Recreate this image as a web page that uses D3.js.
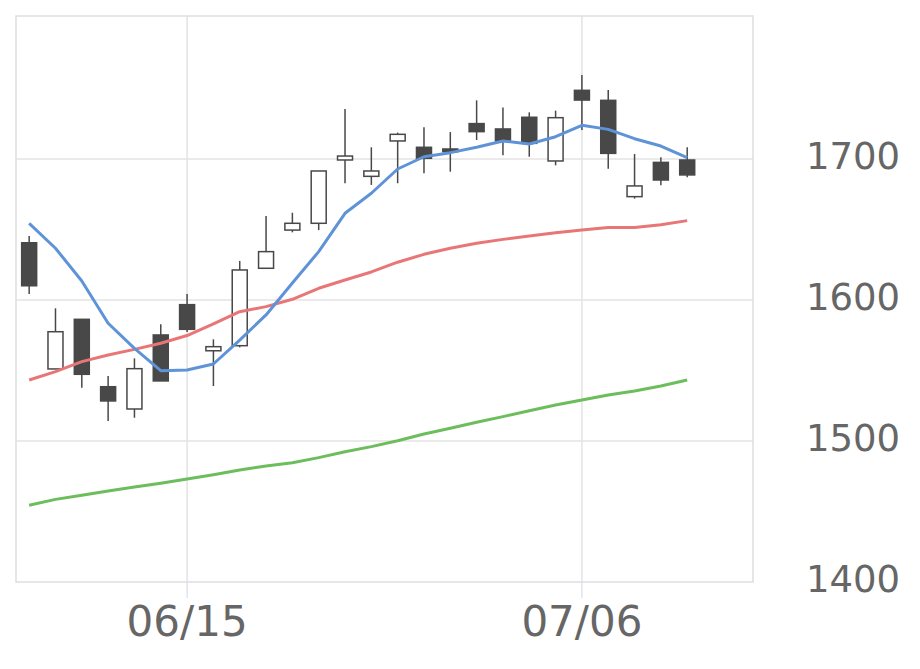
<!DOCTYPE html>
<html>
<head>
<meta charset="utf-8">
<script src="https://cdn.jsdelivr.net/npm/d3@7"></script>
<style>
  body { margin: 0; background: #fff; }
  text { font-family: "DejaVu Sans", sans-serif; fill: #666; }
</style>
</head>
<body>
<div id="chart"></div>
<script>
// trading days, 06/05 .. 07/10
let dates = ['06/05','06/08','06/09','06/10','06/11','06/12','06/15','06/16','06/17','06/18',
             '06/19','06/22','06/23','06/24','06/25','06/26','06/29','06/30','07/01','07/02',
             '07/03','07/06','07/07','07/08','07/09','07/10']
let open  = [1640.6,1551.1,1586.3,1538.5,1522.7,1575.2,1596.7,1564.0,1567.6,1622.5,
             1649.6,1654.4,1699.3,1687.7,1712.8,1708.3,1707.1,1725.1,1721.3,1729.6,
             1698.6,1748.7,1741.6,1673.3,1697.6,1699.3]
let high  = [1645.4,1594.1,1586.3,1546.1,1558.6,1582.8,1604.3,1572.1,1627.7,1659.6,
             1661.9,1691.5,1735.5,1708.3,1718.7,1722.5,1719.1,1741.6,1736.6,1733.1,
             1734.3,1759.6,1748.9,1703.5,1701.2,1708.3]
let low   = [1604.3,1551.1,1537.8,1514.2,1516.5,1542.6,1577.3,1539.0,1566.4,1622.5,
             1648.0,1649.6,1682.8,1681.6,1682.8,1689.9,1691.0,1713.5,1702.6,1701.6,
             1695.5,1720.6,1693.1,1671.9,1681.3,1687.0]
let close = [1610.1,1577.5,1547.3,1528.4,1551.3,1542.6,1579.2,1566.9,1621.3,1634.3,
             1654.4,1691.5,1702.1,1691.5,1717.5,1700.5,1705.2,1719.4,1712.8,1711.1,
             1729.3,1741.8,1704.0,1680.9,1685.1,1688.7]
let ma5   = [1654.4,1636.7,1613.5,1583.5,1565.7,1549.9,1550.4,1554.6,1571.6,1589.4,
             1612.0,1634.3,1661.5,1675.7,1692.9,1701.6,1704.5,1708.3,1712.8,1710.6,
             1715.8,1723.9,1721.0,1714.4,1709.2,1700.9]
let ma25  = [1543.3,1549.2,1556.3,1561.0,1565.0,1569.3,1574.8,1583.0,1591.7,1595.3,
             1600.5,1608.3,1614.2,1619.9,1626.8,1632.4,1636.7,1640.2,1643.0,1645.4,
             1647.7,1649.6,1651.5,1651.5,1653.4,1656.3]
let ma75  = [1454.4,1458.6,1461.5,1464.5,1467.4,1470.0,1473.0,1476.1,1479.4,1482.3,
             1484.6,1488.2,1492.4,1496.0,1500.2,1505.0,1509.0,1513.3,1517.3,1521.5,
             1525.5,1529.1,1532.6,1535.5,1539.0,1543.3]
let xTicks = ['06/15','07/06']
let yTicks = [1400,1500,1600,1700]

let w = 920, h = 669
let pL = 16, pR = 753, pT = 16, pB = 582
let slots = 28

let svg = d3.select('#chart').append('svg').attr('width', w).attr('height', h)

let x = d3.scaleLinear().domain([-0.5, slots - 0.5]).range([pL, pR])
let y = d3.scaleLinear().domain([1400, 1800]).range([pB, 18])

// grid
svg.append('g').selectAll('line').data(yTicks.slice(1)).join('line')
  .attr('x1', pL).attr('x2', pR)
  .attr('y1', d => y(d)).attr('y2', d => y(d))
  .attr('stroke', '#e3e3e3').attr('stroke-width', 1.5)

svg.append('g').selectAll('line').data(xTicks).join('line')
  .attr('x1', d => x(dates.indexOf(d))).attr('x2', d => x(dates.indexOf(d)))
  .attr('y1', pT).attr('y2', pB)
  .attr('stroke', '#e3e3e3').attr('stroke-width', 1.5)

svg.append('rect')
  .attr('x', pL).attr('y', pT).attr('width', pR - pL).attr('height', pB - pT)
  .attr('fill', 'none').attr('stroke', '#dedede').attr('stroke-width', 1.5)

// x axis ticks + labels
let xa = svg.append('g')
xa.selectAll('line').data(xTicks).join('line')
  .attr('x1', d => x(dates.indexOf(d))).attr('x2', d => x(dates.indexOf(d)))
  .attr('y1', pB).attr('y2', pB + 16)
  .attr('stroke', '#ccd6eb').attr('stroke-width', 1)
xa.selectAll('text').data(xTicks).join('text')
  .attr('x', d => x(dates.indexOf(d))).attr('y', 636)
  .attr('text-anchor', 'middle').attr('font-size', 42)
  .text(d => d)

// y axis labels (right)
svg.append('g').selectAll('text').data(yTicks).join('text')
  .attr('x', 806).attr('y', d => y(d) + 9.5)
  .attr('font-size', 37)
  .text(d => d)

// moving averages
let idx = d3.range(dates.length)
let line = vals => d3.line().x(i => x(i)).y(i => y(vals[i]))(idx)
let mas = [
  {vals: ma75, color: '#6cbd5c'},
  {vals: ma25, color: '#e97676'},
  {vals: ma5,  color: '#5f93d8'},
]

// candles
let bw = 15
let cg = svg.append('g').selectAll('g').data(idx).join('g')
cg.append('line')
  .attr('x1', i => x(i)).attr('x2', i => x(i))
  .attr('y1', i => y(high[i])).attr('y2', i => y(low[i]))
  .attr('stroke', '#484848').attr('stroke-width', 1.5)
cg.append('rect')
  .attr('x', i => x(i) - bw / 2).attr('width', bw)
  .attr('y', i => y(Math.max(open[i], close[i])))
  .attr('height', i => Math.max(1, Math.abs(y(open[i]) - y(close[i]))))
  .attr('fill', i => close[i] < open[i] ? '#484848' : '#fff')
  .attr('stroke', '#484848').attr('stroke-width', 1.5)

svg.append('g').selectAll('path').data(mas).join('path')
  .attr('d', m => line(m.vals))
  .attr('fill', 'none').attr('stroke', m => m.color).attr('stroke-width', 3)
  .attr('stroke-linejoin', 'round')
</script>
</body>
</html>
